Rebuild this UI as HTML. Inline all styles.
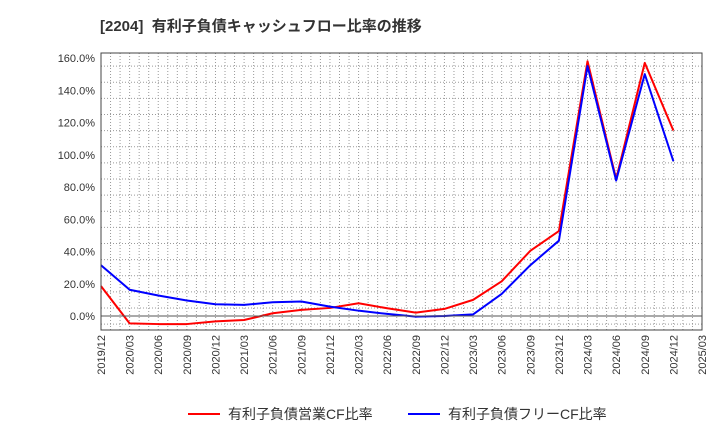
<!DOCTYPE html>
<html><head><meta charset="utf-8"><style>
body{margin:0;background:#fff;font-family:"Liberation Sans","Noto Sans CJK JP",sans-serif}
svg text{font-family:"Liberation Sans","Noto Sans CJK JP",sans-serif}
</style></head><body>
<svg id="c" width="720" height="440" xmlns="http://www.w3.org/2000/svg">
<text x="100" y="31" font-size="15" font-weight="bold" fill="#333">[2204]&#160; 有利子負債キャッシュフロー比率の推移</text>
<g id="grid"></g><g id="series"></g><g id="axes"></g>
<g>
<line x1="188" y1="414" x2="220" y2="414" stroke="#f00" stroke-width="2"/>
<text x="228" y="419" font-size="14" fill="#333">有利子負債営業CF比率</text>
<line x1="408" y1="414" x2="440" y2="414" stroke="#00f" stroke-width="2"/>
<text x="448" y="419" font-size="14" fill="#333">有利子負債フリーCF比率</text>
</g>
</svg>
<script>
const xLabels=["2019/12","2020/03","2020/06","2020/09","2020/12","2021/03","2021/06","2021/09","2021/12","2022/03","2022/06","2022/09","2022/12","2023/03","2023/06","2023/09","2023/12","2024/03","2024/06","2024/09","2024/12","2025/03"];
const yTicks=[0,20,40,60,80,100,120,140,160];
const opCF=[18.5,-4.6,-5,-5,-3.3,-2.5,1.7,3.8,5,7.9,4.8,2.1,4.4,10,21.5,40.4,52.7,158,85,157,115];
const freeCF=[31.5,16.3,12.7,9.6,7.3,6.9,8.5,9,5.8,3.3,1.3,-0.4,0,1,13.7,31.5,46.7,155,84,150,96];
const L=101,R=702,T=53,B=330;
const X=i=>L+i*(R-L)/(xLabels.length-1);
const Y=v=>316-v*(316-58)/160;
const ns="http://www.w3.org/2000/svg";
function mk(p,t,a){const e=document.createElementNS(ns,t);for(const k in a)e.setAttribute(k,a[k]);p.appendChild(e);return e;}
const g=document.getElementById('grid'),ax=document.getElementById('axes'),s=document.getElementById('series');
for(let m=0;m<=63;m++){const x=L+m*(R-L)/63;const l=mk(g,'line',{x1:x,x2:x,y1:T,y2:B,stroke:'#999','stroke-dasharray':'1,2','stroke-width':1});

}
for(let v=-5;v<=160;v+=10){if(Y(v)<T)continue;const l=mk(g,'line',{x1:L,x2:R,y1:Y(v),y2:Y(v),stroke:'#999','stroke-dasharray':'1,2','stroke-width':1});

}
const z=mk(ax,'line',{x1:L,x2:R,y1:Y(0),y2:Y(0),stroke:'#555','stroke-width':1});


const fr=mk(ax,'rect',{x:L,y:T,width:R-L,height:B-T,fill:'none',stroke:'#444','stroke-width':1});


yTicks.forEach(v=>{const t=mk(ax,'text',{x:L-6,y:Y(v)+4,'font-size':11,'text-anchor':'end',fill:'#333'});t.textContent=v.toFixed(1)+'%';

});
xLabels.forEach((lab,i)=>{const t=mk(ax,'text',{transform:`translate(${X(i)+4},${B+5}) rotate(-90)`,'font-size':11,'text-anchor':'end',fill:'#333'});t.textContent=lab;

});
function line(d,c,n){const p=mk(s,'polyline',{points:d.map((v,i)=>X(i)+','+Y(v)).join(' '),fill:'none',stroke:c,'stroke-width':2,'stroke-linejoin':'round'});

}
line(opCF,'#f00','operating-cf-line');
line(freeCF,'#00f','free-cf-line');
</script>
</body></html>
